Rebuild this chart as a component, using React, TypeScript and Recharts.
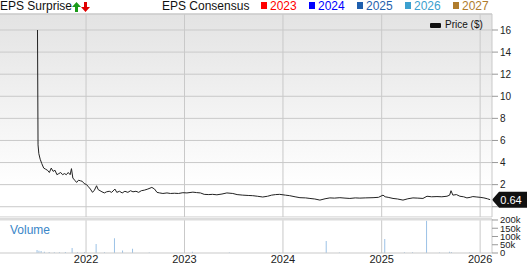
import React from 'react';
import { LineChart, Line, BarChart, Bar, XAxis, YAxis, CartesianGrid, ReferenceLine } from 'recharts';

const FONT = '"Liberation Sans", Arial, Helvetica, sans-serif';

// price series (closing price, $)
const priceDates = [
  '2021-07-05', '2021-07-07', '2021-07-10', '2021-07-15', '2021-07-21', '2021-07-28', '2021-08-04', '2021-08-11',
  '2021-08-18', '2021-08-25', '2021-09-01', '2021-09-08', '2021-09-15', '2021-09-22', '2021-09-29', '2021-10-06',
  '2021-10-13', '2021-10-20', '2021-10-27', '2021-11-03', '2021-11-08', '2021-11-13', '2021-11-20', '2021-11-27',
  '2021-12-04', '2021-12-11', '2021-12-18', '2021-12-25', '2022-01-03', '2022-01-10', '2022-01-17', '2022-01-25',
  '2022-02-01', '2022-02-09', '2022-02-15', '2022-02-22', '2022-03-01', '2022-03-10', '2022-03-18', '2022-03-28',
  '2022-04-06', '2022-04-18', '2022-04-25', '2022-05-05', '2022-05-15', '2022-05-25', '2022-06-05', '2022-06-15',
  '2022-06-24', '2022-07-05', '2022-07-15', '2022-07-25', '2022-08-05', '2022-08-18', '2022-09-02', '2022-09-12',
  '2022-09-21', '2022-10-01', '2022-10-13', '2022-10-28', '2022-11-10', '2022-11-25', '2022-12-10', '2022-12-26',
  '2023-01-10', '2023-02-01', '2023-02-15', '2023-03-01', '2023-03-15', '2023-04-01', '2023-04-15', '2023-05-01',
  '2023-05-20', '2023-06-07', '2023-06-29', '2023-07-15', '2023-08-05', '2023-08-25', '2023-09-11', '2023-09-28',
  '2023-10-18', '2023-11-05', '2023-11-20', '2023-12-05', '2023-12-20', '2024-01-10', '2024-01-26', '2024-02-15',
  '2024-03-04', '2024-03-25', '2024-04-10', '2024-04-28', '2024-05-17', '2024-06-05', '2024-06-23', '2024-07-10',
  '2024-07-30', '2024-08-18', '2024-09-05', '2024-09-25', '2024-10-12', '2024-11-01', '2024-11-30', '2024-12-20',
  '2025-01-06', '2025-01-14', '2025-01-25', '2025-02-12', '2025-03-01', '2025-03-21', '2025-04-08', '2025-04-27',
  '2025-05-15', '2025-06-03', '2025-06-18', '2025-07-05', '2025-07-25', '2025-08-12', '2025-08-31', '2025-09-10',
  '2025-09-15', '2025-09-22', '2025-10-05', '2025-10-18', '2025-11-01', '2025-11-13', '2025-11-25', '2025-12-05',
  '2025-12-20', '2026-01-01', '2026-01-15', '2026-01-28', '2026-02-07',
];
const prices = [
  16.0, 5.6, 4.8, 4.3, 3.9, 3.5, 3.4, 3.3,
  3.1, 3.5, 3.2, 3.3, 2.9, 3.0, 3.1, 2.9,
  3.0, 2.9, 3.1, 2.9, 3.45, 2.6, 2.4, 2.2,
  2.4, 2.35, 2.3, 2.1, 2.0, 1.8, 1.6, 1.3,
  1.5, 1.9, 1.55, 1.45, 1.35, 1.25, 1.35, 1.4,
  1.3, 1.6, 1.3, 1.4, 1.25, 1.4, 1.3, 1.45,
  1.35, 1.4, 1.3, 1.45, 1.5, 1.6, 1.75, 1.6,
  1.3, 1.25, 1.2, 1.25, 1.2, 1.22, 1.2, 1.27,
  1.25, 1.32, 1.28, 1.25, 1.12, 1.1, 1.12, 1.08,
  1.15, 1.25, 1.2, 1.1, 1.05, 1.02, 1.0, 0.95,
  0.88, 0.95, 1.05, 1.1, 1.12, 1.05, 1.0, 0.9,
  0.82, 0.8, 0.75, 0.7, 0.6, 0.72, 0.8, 0.78,
  0.82, 0.78, 0.75, 0.8, 0.78, 0.8, 0.82, 0.85,
  1.05, 0.9, 0.85, 0.75, 0.7, 0.6, 0.72, 0.8,
  0.78, 0.75, 0.95, 0.9, 0.92, 0.9, 0.95, 1.05,
  1.45, 1.05, 1.1, 0.95, 0.9, 0.8, 0.85, 0.92,
  0.88, 0.85, 0.8, 0.72, 0.64,
];

// daily volume (shares)
const volumeDates = [
  '2021-07-05', '2021-07-12', '2021-07-20', '2021-08-01', '2021-08-19', '2021-09-07', '2021-09-26', '2021-10-18',
  '2021-11-12', '2021-12-02', '2021-12-28', '2022-02-09', '2022-03-12', '2022-04-18', '2022-05-18', '2022-06-24',
  '2022-08-25', '2023-02-01', '2023-06-18', '2023-12-20', '2024-06-11', '2024-07-30', '2025-01-14', '2025-03-28',
  '2025-04-27', '2025-06-18', '2025-08-05', '2025-09-11', '2025-09-18', '2025-11-24',
];
const volumes = [
  18000, 14000, 12000, 8000, 6000, 5000, 5000, 6000,
  30000, 5000, 4000, 55000, 5000, 90000, 15000, 25000,
  3000, 8000, 3000, 3000, 73000, 3000, 85000, 4000,
  5000, 195000, 3000, 8000, 6000, 3000,
];

const yearTicks = ['2022-01-01', '2023-01-01', '2024-01-01', '2025-01-01', '2026-01-01'];
const priceTicks = [0, 2, 4, 6, 8, 10, 12, 14, 16];
const volumeTicks = [0, 50000, 100000, 150000, 200000];
const consensusYears = ['2023', '2024', '2025', '2026', '2027'];
const consensusColors = ['#ff0000', '#0000ff', '#1f5fae', '#3ba0cf', '#b07c2c'];
const lastPrice = 0.64;

const ts = (d: string) => Date.parse(d);
const X_DOMAIN = [ts('2021-02-16'), ts('2026-02-14')];
const PRICE_DOMAIN = [-0.93, 17.45];
const VOLUME_DOMAIN = [0, 206000];
const yearTs = yearTicks.map(ts);

const priceData = priceDates.map((d, i) => ({ t: ts(d), price: prices[i] }));
const volumeData = volumeDates.map((d, i) => ({ t: ts(d), volume: volumes[i] }));

const GRID = '#c9c9c9';

const PriceTag = (props: any) => {
  const { viewBox } = props;
  if (!viewBox) return null;
  const x = viewBox.x + viewBox.width;
  const y = viewBox.y;
  return (
    <g>
      <polygon
        points={`${x},${y} ${x + 7},${y - 8} ${x + 35},${y - 8} ${x + 35},${y + 8} ${x + 7},${y + 8}`}
        fill="#111"
      />
      <text x={x + 19} y={y + 4} textAnchor="middle" fill="#fff" fontSize={11} fontFamily={FONT}>
        {lastPrice.toFixed(2)}
      </text>
    </g>
  );
};

const Arrow = ({ up, color }: { up: boolean; color: string }) => (
  <svg width={9} height={10} viewBox="0 0 9 10" style={{ display: 'inline-block', verticalAlign: 'top', marginTop: 2 }}>
    <g transform={up ? '' : 'rotate(180 4.5 5)'}>
      <polygon points="4.5,0 9,5 6,5 6,10 3,10 3,5 0,5" fill={color} />
    </g>
  </svg>
);

export default function App() {
  return (
    <div style={{ position: 'absolute', left: 0, top: 0, width: 527, height: 264, background: '#fff', fontFamily: FONT, overflow: 'hidden' }}>
      <div style={{ position: 'absolute', left: 0, top: 0, fontSize: 12, lineHeight: '12px', color: '#111', whiteSpace: 'nowrap' }}>
        EPS Surprise<Arrow up color="#1a9a1a" /><Arrow up={false} color="#e00000" />
      </div>
      <div style={{ position: 'absolute', left: 162, top: 0, fontSize: 12, lineHeight: '12px', color: '#111', whiteSpace: 'nowrap' }}>
        EPS Consensus
      </div>
      {consensusYears.map((y, i) => (
        <div key={y} style={{ position: 'absolute', left: 261 + i * 48, top: 0, fontSize: 12, lineHeight: '12px', color: consensusColors[i], whiteSpace: 'nowrap' }}>
          <span style={{ display: 'inline-block', width: 6, height: 7, background: consensusColors[i], marginRight: 3, verticalAlign: 'top', marginTop: 2 }} />
          {y}
        </div>
      ))}

      <div style={{ position: 'absolute', left: 0, top: 0 }}>
        <LineChart width={527} height={217} data={priceData} margin={{ top: 14, right: 0, bottom: 0, left: 0 }}>
          <defs>
            <linearGradient id="priceBg" x1="0" y1="0" x2="0" y2="1">
              <stop offset="0%" stopColor="#e3e3e3" />
              <stop offset="85%" stopColor="#ffffff" />
              <stop offset="100%" stopColor="#ffffff" />
            </linearGradient>
          </defs>
          <CartesianGrid vertical={false} stroke={GRID} fill="url(#priceBg)" fillOpacity={1} />
          <XAxis type="number" dataKey="t" domain={X_DOMAIN} allowDataOverflow hide />
          <YAxis
            orientation="right"
            width={35}
            domain={PRICE_DOMAIN}
            allowDataOverflow
            ticks={priceTicks}
            interval={0}
            tickSize={6}
            tickMargin={2}
            axisLine={{ stroke: GRID }}
            tickLine={{ stroke: '#999' }}
            tickFormatter={(v: number) => (v === 0 ? '' : String(v))}
            tick={{ fontSize: 10, fill: '#222', fontFamily: FONT }}
          />
          {yearTs.map((x) => (
            <ReferenceLine key={x} x={x} stroke={GRID} />
          ))}
          <ReferenceLine y={PRICE_DOMAIN[1]} stroke={GRID} ifOverflow="visible" />
          <Line type="linear" dataKey="price" stroke="#222" strokeWidth={1} dot={false} isAnimationActive={false} />
          <ReferenceLine y={lastPrice} stroke="none" label={<PriceTag />} />
        </LineChart>
      </div>

      <div style={{ position: 'absolute', left: 430, top: 20, fontSize: 10, lineHeight: '10px', color: '#111', whiteSpace: 'nowrap' }}>
        <span style={{ display: 'inline-block', width: 11, height: 5, background: '#111', borderRadius: 1, marginRight: 4, verticalAlign: 'top', marginTop: 3 }} />
        Price ($)
      </div>

      <div style={{ position: 'absolute', left: 0, top: 205 }}>
        <BarChart width={527} height={59} data={volumeData} margin={{ top: 14, right: 0, bottom: 0, left: 0 }} barSize={1}>
          <XAxis
            type="number"
            dataKey="t"
            domain={X_DOMAIN}
            allowDataOverflow
            ticks={yearTs}
            interval={0}
            height={11}
            tickSize={2}
            tickMargin={0}
            tickLine={false}
            axisLine={{ stroke: GRID }}
            tickFormatter={(v: number) => String(new Date(v).getUTCFullYear())}
            tick={{ fontSize: 11, fill: '#222', fontFamily: FONT }}
          />
          <YAxis
            orientation="right"
            width={35}
            domain={VOLUME_DOMAIN}
            allowDataOverflow
            ticks={volumeTicks}
            interval={0}
            tickSize={6}
            tickMargin={2}
            axisLine={{ stroke: GRID }}
            tickLine={{ stroke: '#999' }}
            tickFormatter={(v: number) => (v === 0 ? '0' : `${v / 1000}k`)}
            tick={{ fontSize: 9.5, fill: '#222', fontFamily: FONT }}
          />
          {yearTs.map((x) => (
            <ReferenceLine key={x} x={x} stroke={GRID} />
          ))}
          <ReferenceLine y={VOLUME_DOMAIN[1]} stroke="#dcdcdc" strokeWidth={3} ifOverflow="visible" />
          <Bar dataKey="volume" fill="#9cc2e6" isAnimationActive={false} />
        </BarChart>
      </div>

      <div style={{ position: 'absolute', left: 10, top: 224, fontSize: 12, lineHeight: '12px', color: '#3a86c8' }}>Volume</div>
    </div>
  );
}
